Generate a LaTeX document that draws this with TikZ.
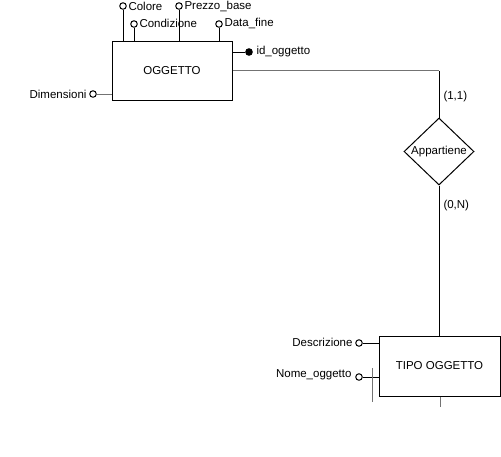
\documentclass[tikz,border=0pt]{standalone}
\usepackage{fontspec}
\setmainfont{Liberation Sans}
\usetikzlibrary{shapes.geometric}
\begin{document}
\begin{tikzpicture}[x=1pt,y=-1pt,line width=1pt,
  entity/.style={draw,rectangle,inner sep=0pt,font=\fontsize{11.5}{13}\selectfont},
  relation/.style={draw,diamond,inner sep=0pt,minimum width=70pt,minimum height=67pt,font=\fontsize{11.5}{13}\selectfont},
  attr/.style={draw,circle,fill=white,inner sep=0pt,minimum size=6.5pt},
  keyattr/.style={attr,fill=black},
  lbl/.style={inner sep=0pt,font=\fontsize{11.5}{13}\selectfont},
  link/.style={draw=black},
  softlink/.style={draw=black!55}]
\useasboundingbox[fill=white] (0,0) rectangle (501,456);

% entities and relationship
\node[entity,minimum width=120pt,minimum height=59pt] (ogg) at (172,70.5) {OGGETTO};
\node[entity,minimum width=121pt,minimum height=60pt] (tipo) at (439.5,366) {TIPO OGGETTO};
\node[relation] (app) at (439,151.5) {Appartiene};

% attributes of OGGETTO
\node[attr] (colore) at (123,6) {};
\node[attr] (cond) at (134,24) {};
\node[attr] (prezzo) at (179,6) {};
\node[attr] (fine) at (219,24) {};
\node[keyattr] (id) at (249,52) {};
\node[attr] (dim) at (93,94) {};
\draw[link] (colore) -- (colore |- ogg.north);
\draw[link] (cond) -- (cond |- ogg.north);
\draw[link] (prezzo) -- (prezzo |- ogg.north);
\draw[link] (fine) -- (fine |- ogg.north);
\draw[link] (id) -- (id -| ogg.east);
\draw[softlink] (dim) -- (dim -| ogg.west);
\node[lbl,anchor=west] (tcolore) at (128,6) {Colore};
\node[lbl,anchor=west] (tcond) at (139,23.5) {Condizione};
\node[lbl,anchor=west] (tprezzo) at (184,6) {Prezzo\_base};
\node[lbl,anchor=west] (tfine) at (224,23.5) {Data\_fine};
\node[lbl,anchor=west] (tid) at (256,52) {id\_oggetto};
\node[lbl,anchor=east] (tdim) at (87,94) {Dimensioni};

% attributes of TIPO OGGETTO
\node[attr] (descr) at (359,343) {};
\node[attr] (nome) at (359,377) {};
\draw[link] (descr) -- (descr -| tipo.west);
\draw[link] (nome) -- (nome -| tipo.west);
\coordinate (kt) at (372,368);
\coordinate (kb) at (372,402);
\draw[softlink] (kt) -- (kb);
\coordinate (tb) at (440,407);
\draw[softlink] (tipo.south -| tb) -- (tb);
\node[lbl,anchor=east] (tdescr) at (353,342) {Descrizione};
\node[lbl,anchor=east] (tnome) at (352,375) {Nome\_oggetto};

% relationship links and cardinalities
\draw[softlink] (ogg.east) -- (ogg.east -| app.north);
\draw[link] (ogg.east -| app.north) -- (app.north);
\draw[link] (app.south) -- (tipo.north -| app.south);
\node[lbl,anchor=west] (c11) at (443,97) {(1,1)};
\node[lbl,anchor=west] (c0n) at (443,206) {(0,N)};
\end{tikzpicture}
\end{document}
